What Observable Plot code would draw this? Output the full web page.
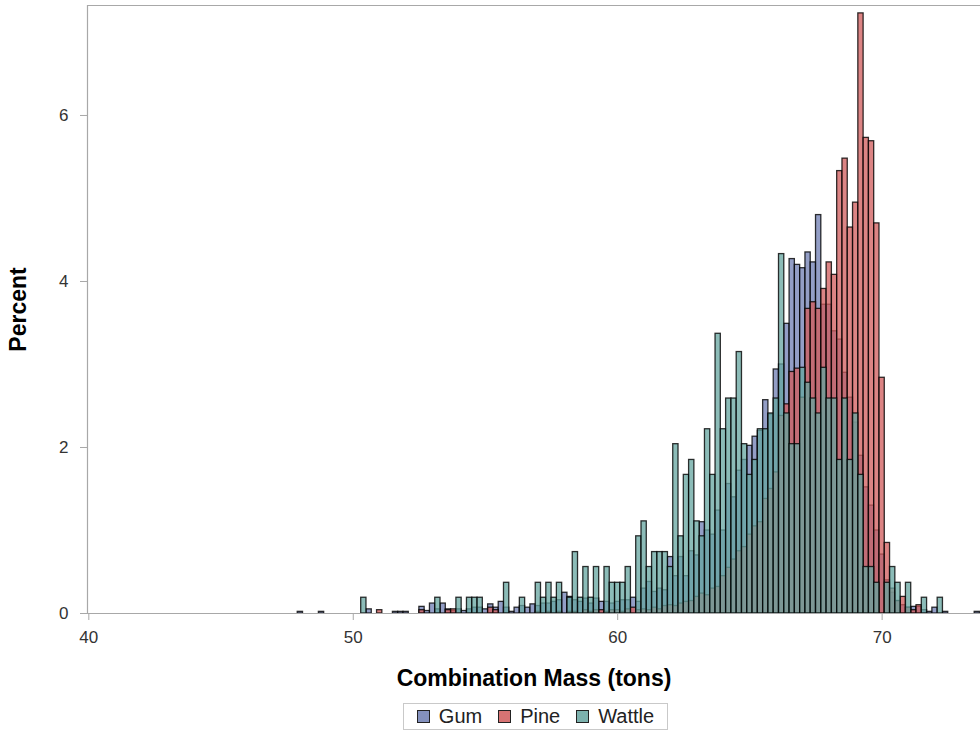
<!DOCTYPE html>
<html><head><meta charset="utf-8">
<script src="https://cdn.jsdelivr.net/npm/d3@7"></script>
<script src="https://cdn.jsdelivr.net/npm/@observablehq/plot@0.6"></script>
<style>
body{margin:0;background:#fff;font-family:"Liberation Sans",Arial,sans-serif;}
#wrap{position:relative;width:980px;height:731px;overflow:hidden;}
#legend{position:absolute;left:403px;top:703px;width:265px;height:27px;border:1px solid #c9c9c9;box-sizing:border-box;display:flex;align-items:center;justify-content:center;font-size:20px;color:#222;}
#legend .item{display:flex;align-items:center;margin:0 8px;}
#legend .sw{display:inline-block;width:13px;height:13px;border:1px solid #222;margin-right:9px;box-sizing:border-box;}
</style></head><body><div id="wrap"></div>
<script>
// bin centres (tons), bin width 0.2
const mass = [
 48.0,48.2,48.4,48.6,48.8,49.0,49.2,49.4,49.6,49.8,
 50.0,50.2,50.4,50.6,50.8,51.0,51.2,51.4,51.6,51.8,
 52.0,52.2,52.4,52.6,52.8,53.0,53.2,53.4,53.6,53.8,
 54.0,54.2,54.4,54.6,54.8,55.0,55.2,55.4,55.6,55.8,
 56.0,56.2,56.4,56.6,56.8,57.0,57.2,57.4,57.6,57.8,
 58.0,58.2,58.4,58.6,58.8,59.0,59.2,59.4,59.6,59.8,
 60.0,60.2,60.4,60.6,60.8,61.0,61.2,61.4,61.6,61.8,
 62.0,62.2,62.4,62.6,62.8,63.0,63.2,63.4,63.6,63.8,
 64.0,64.2,64.4,64.6,64.8,65.0,65.2,65.4,65.6,65.8,
 66.0,66.2,66.4,66.6,66.8,67.0,67.2,67.4,67.6,67.8,
 68.0,68.2,68.4,68.6,68.8,69.0,69.2,69.4,69.6,69.8,
 70.0,70.2,70.4,70.6,70.8,71.0,71.2,71.4,71.6,71.8,
 72.0,72.2,72.4,72.6,72.8,73.0,73.2,73.4,73.6
];
const gum = [
 0.02,0,0,0,0.02,0,0,0,0,0,
 0,0,0,0.05,0,0,0,0,0.02,0.02,
 0.02,0,0,0.08,0.03,0.12,0.05,0.12,0.05,0.03,
 0.05,0.03,0.05,0.07,0.07,0.05,0.11,0.07,0.14,0.07,
 0.02,0.07,0.09,0.07,0.11,0.09,0.12,0.12,0.14,0.16,
 0.25,0.20,0.16,0.14,0.18,0.12,0.18,0.14,0.14,0.12,
 0.14,0.16,0.16,0.19,0.14,0.30,0.38,0.26,0.30,0.28,
 0.68,0.45,0.68,0.45,0.75,0.70,1.10,1.00,0.95,1.24,
 1.00,1.56,1.40,1.72,1.85,2.02,2.13,2.20,2.57,2.40,
 2.94,3.00,3.49,4.27,4.20,4.16,4.35,4.23,4.80,3.72,
 3.72,3.40,3.30,2.90,2.60,2.30,1.90,1.52,1.30,1.00,
 0.71,0.40,0.25,0.15,0.10,0.07,0.08,0.08,0.04,0.02,
 0.07,0,0.02,0,0,0,0,0,0.02
];
const pine = [
 0,0,0,0,0,0,0,0,0,0,
 0,0,0,0,0,0.04,0,0,0,0,
 0,0,0,0.04,0,0,0,0,0.04,0.05,
 0,0,0,0,0,0,0.07,0.04,0,0,
 0,0,0,0,0,0.02,0,0.02,0,0.02,
 0,0.02,0.02,0,0.04,0.02,0.04,0.04,0.02,0.04,
 0.04,0.02,0.05,0.07,0.04,0.05,0.04,0.07,0.05,0.09,
 0.10,0.09,0.12,0.14,0.15,0.20,0.24,0.22,0.30,0.32,
 0.45,0.55,0.65,0.75,0.80,0.95,1.05,1.10,1.38,1.50,
 1.70,2.38,2.52,2.91,2.95,2.60,3.67,3.75,3.67,3.91,
 4.23,4.08,5.33,5.48,4.65,4.95,7.23,5.73,5.69,4.70,
 2.84,0.85,0.30,0.15,0.20,0.07,0.04,0.10,0,0,
 0,0,0,0,0,0,0,0,0
];
const wattle = [
 0,0,0,0,0,0,0,0,0,0,
 0,0,0.19,0,0,0,0,0,0,0,
 0,0,0,0,0,0,0.19,0,0,0,
 0.19,0,0.19,0.19,0.19,0,0,0,0,0.37,
 0,0,0.19,0,0,0.37,0.19,0.37,0.19,0.37,
 0,0.19,0.74,0.19,0.56,0.19,0.56,0,0.56,0.37,
 0.37,0.37,0.56,0,0.93,1.11,0.56,0.74,0.74,0.74,
 0.56,2.04,0.93,1.67,1.85,1.11,0.93,2.22,1.67,3.37,
 2.22,2.59,2.59,3.15,2.04,1.67,1.85,2.22,2.22,2.41,
 2.59,4.33,2.41,2.04,2.04,2.96,2.78,2.59,2.41,2.96,
 2.59,2.59,1.85,2.59,1.85,2.41,1.67,0.56,0.56,0.37,
 0,0.37,0.56,0.37,0,0.37,0,0,0.19,0,
 0,0.19,0,0,0,0,0,0,0
];
const groups = ["Gum", "Pine", "Wattle"];
const colors = ["#6F7EB3", "#D05B5B", "#66A5A0"];
const xTicks = [40, 50, 60, 70];
const yTicks = [0, 2, 4, 6];
const binWidth = 0.2;

const series = [gum, pine, wattle];
const rows = [];
groups.forEach((g, gi) => {
  mass.forEach((m, i) => {
    const v = series[gi][i];
    if (v > 0) rows.push({group: g, x1: m - binWidth / 2, x2: m + binWidth / 2, pct: v});
  });
});

const xDomain = [39.95, 73.72];
const yDomain = [0, 7.325];
const axisColor = "#a8a8a8";

const chart = Plot.plot({
  width: 980,
  height: 692,
  marginLeft: 87,
  marginRight: 0,
  marginTop: 5,
  marginBottom: 79,
  x: {domain: xDomain},
  y: {domain: yDomain},
  color: {domain: groups, range: colors},
  style: {fontFamily: "'Liberation Sans', Arial, sans-serif", background: "white", overflow: "visible"},
  marks: [
    Plot.rect(rows, {x1: "x1", x2: "x2", y1: 0, y2: "pct", fill: "group", fillOpacity: 0.75,
      stroke: "#000", strokeOpacity: 0.8, strokeWidth: 1.3}),
    Plot.ruleY([yDomain[1]], {stroke: axisColor, strokeWidth: 1.2}),
    Plot.ruleX([xDomain[0]], {stroke: axisColor, strokeWidth: 1.2}),
    Plot.ruleY([0], {stroke: axisColor, strokeWidth: 1.2}),
    Plot.axisX(xTicks, {tickSize: 7, tickPadding: 10, fontSize: 17, stroke: axisColor, fill: "#333", label: null, tickFormat: d => String(d)}),
    Plot.axisY(yTicks, {tickSize: 7, tickPadding: 12, fontSize: 17, stroke: axisColor, fill: "#333", label: null, tickFormat: d => String(d)}),
    Plot.text(["Percent"], {frameAnchor: "left", dx: -69, rotate: -90, textAnchor: "middle", lineAnchor: "middle", fontSize: 23, fontWeight: "bold", fill: "#000"}),
    Plot.text(["Combination Mass (tons)"], {frameAnchor: "bottom", dy: 65, lineAnchor: "middle", fontSize: 23, fontWeight: "bold", fill: "#000"})
  ]
});

const wrap = document.getElementById("wrap");
wrap.appendChild(chart);

const legend = document.createElement("div");
legend.id = "legend";
groups.forEach((g, i) => {
  const item = document.createElement("span");
  item.className = "item";
  const sw = document.createElement("span");
  sw.className = "sw";
  sw.style.background = d3.color(colors[i]).copy({opacity: 0.85}).formatRgb();
  const t = document.createElement("span");
  t.textContent = g;
  item.appendChild(sw);
  item.appendChild(t);
  legend.appendChild(item);
});
wrap.appendChild(legend);
</script>
</body></html>
